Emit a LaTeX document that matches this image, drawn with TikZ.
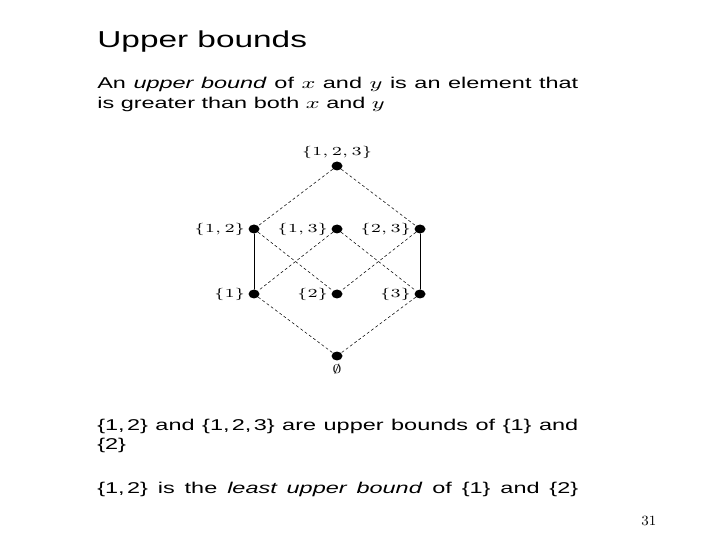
\documentclass[tikz,border=0pt]{standalone}
\usepackage{fontspec}
\setsansfont{Liberation Sans}
\usetikzlibrary{shapes.geometric}

% the slide text is set wide
\newcommand\wide[2][1.5]{\scalebox{#1}[1]{#2}}
\newcommand\para[1]{\wide{\parbox[t]{6.413cm}{#1}}}
\newcommand\set[1]{\{#1\}}
\newcommand\sep{,\kern.1em}

\begin{document}
\begin{tikzpicture}[x=0.02cm,y=-0.02cm,line cap=round,line join=round,
    vtx/.style={ellipse,fill,inner sep=0pt,minimum width=0.22cm,minimum height=0.18cm},
    lbl/.style={font=\fontsize{6.8}{8}\selectfont,inner sep=1.5pt},
    txt/.style={anchor=base west,inner sep=0pt,font=\sffamily\fontsize{8.9}{11.34}\selectfont},
    cover/.style={dash pattern=on 1.5pt off 1.5pt,line width=0.3pt},
    chain/.style={line width=0.5pt}]
  \useasboundingbox (0,0) rectangle (720,540);

  \node[txt,font=\sffamily\fontsize{13.1}{15}\selectfont] (title) at (97,48) {\wide[1.45]{Upper bounds}};
  \node[txt] (def) at (97,89) {\para{An \emph{upper bound} of $x$ and $y$ is an element that is greater than both $x$ and $y$}};

  % the lattice of subsets
  \node[vtx,label={[lbl]above:\wide[1.45]{$\{1,2,3\}$}}] (s123) at (337,166) {};
  \node[vtx,label={[lbl]left:\wide[1.45]{$\{1,2\}$}}] (s12) at (254,229) {};
  \node[vtx,label={[lbl]left:\wide[1.45]{$\{1,3\}$}}] (s13) at (337,229) {};
  \node[vtx,label={[lbl]left:\wide[1.45]{$\{2,3\}$}}] (s23) at (420,229) {};
  \node[vtx,label={[lbl]left:\wide[1.45]{$\{1\}$}}] (s1) at (254,294) {};
  \node[vtx,label={[lbl]left:\wide[1.45]{$\{2\}$}}] (s2) at (337,294) {};
  \node[vtx,label={[lbl]left:\wide[1.45]{$\{3\}$}}] (s3) at (420,294) {};
  \node[vtx,label={[lbl,font=\fontsize{7.5}{9}\selectfont]below:\wide[1.3]{$\emptyset$}}] (s0) at (337,356) {};

  \draw[cover] (s123) -- (s12);
  \draw[cover] (s123) -- (s23);
  \draw[cover] (s12) -- (s2);
  \draw[cover] (s13) -- (s1);
  \draw[cover] (s13) -- (s3);
  \draw[cover] (s23) -- (s2);
  \draw[cover] (s1) -- (s0);
  \draw[cover] (s3) -- (s0);
  \draw[chain] (s12) -- (s1);
  \draw[chain] (s23) -- (s3);

  \node[txt] (ex) at (97,430) {\para{\set{1\sep2} and \set{1\sep2\sep3} are upper bounds of \set{1} and \set{2}}};
  \node[txt] (lub) at (97,493) {\para{\parfillskip=0pt \set{1\sep2} is the \emph{least upper bound} of \set{1} and \set{2}}};

  \node[anchor=base west,inner sep=0pt,font=\fontsize{8}{10}\selectfont] (page) at (641,525) {31};
\end{tikzpicture}
\end{document}
